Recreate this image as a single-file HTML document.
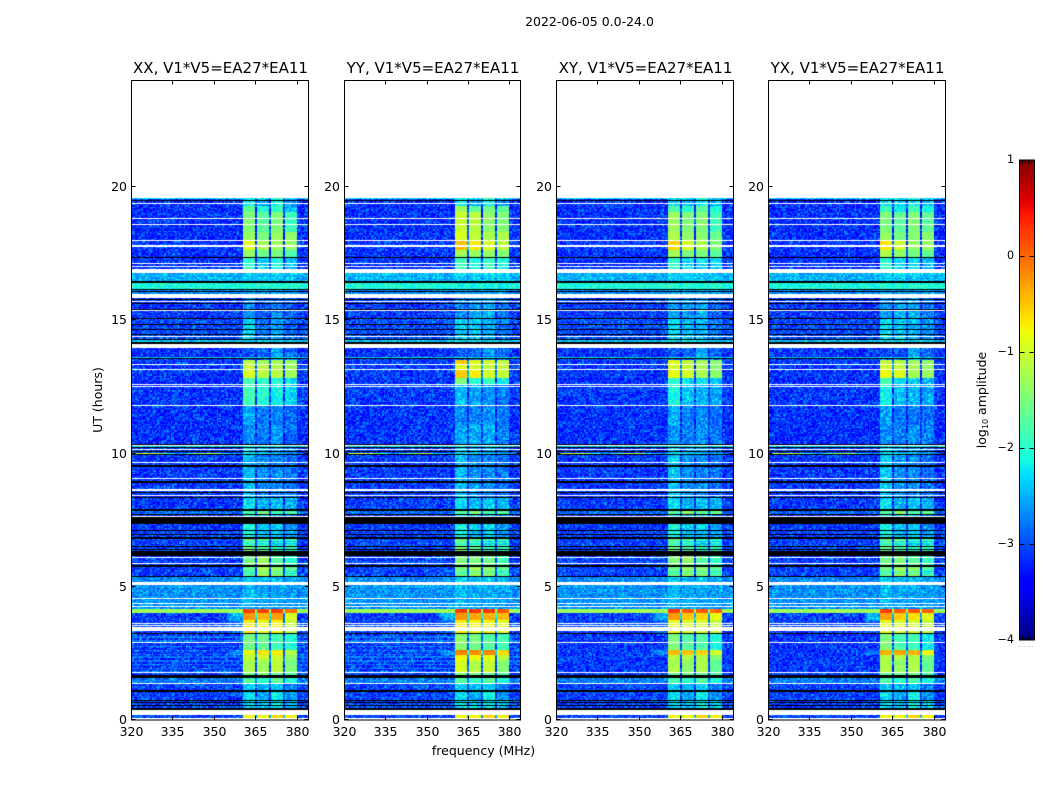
<!DOCTYPE html>
<html lang="en">
<head>
<meta charset="utf-8">
<title>2022-06-05 0.0-24.0</title>
<style>
html,body{margin:0;padding:0;background:#fff;}
#figure{position:relative;width:1050px;height:800px;overflow:hidden;background:#fff;}
canvas{position:absolute;display:block;}
svg{position:absolute;left:0;top:0;}
text{font-family:"DejaVu Sans","Liberation Sans",sans-serif;fill:#000;}
</style>
</head>
<body>
<div id="figure">
<canvas id="cv0" width="177" height="640" style="left:131px;top:80px"></canvas>
<canvas id="cv1" width="176" height="640" style="left:344px;top:80px"></canvas>
<canvas id="cv2" width="177" height="640" style="left:556px;top:80px"></canvas>
<canvas id="cv3" width="177" height="640" style="left:768px;top:80px"></canvas>
<canvas id="cbar" width="15" height="480" style="left:1019px;top:160px"></canvas>
<svg id="chrome" width="1050" height="800" viewBox="0 0 1050 800" xmlns="http://www.w3.org/2000/svg">
<text x="589.5" y="26" text-anchor="middle" font-size="12.5">2022-06-05 0.0-24.0</text>
<text x="483.5" y="755" text-anchor="middle" font-size="12.5">frequency (MHz)</text>
<text transform="translate(102,400) rotate(-90)" text-anchor="middle" font-size="12.5">UT (hours)</text>
<text transform="translate(986,400) rotate(-90)" text-anchor="middle" font-size="12.5">log<tspan font-size="8" dy="2">10</tspan><tspan dy="-2"> amplitude</tspan></text>
</svg>
</div>
<script>
// ---- data ----
const panelNames = ['XX','YY','XY','YX'];
const xTickValues = [320,335,350,365,380];
const yTickValues = [0,5,10,15,20];
const cbarTickValues = [1,0,-1,-2,-3,-4];
const bandEdges = [[360.45,364.9],[365.6,369.9],[370.6,374.9],[375.65,379.9]];

// top hour of each time segment (a segment runs to the next entry)
const segTop = [19.57,19.53,19.27,19.04,18.29,17.96,17.62,17.32,16.75,16.40,16.14,15.97,15.05,14.29,14.16,13.60,13.56,13.49,13.30,13.12,12.81,12.55,11.78,11.05,10.28,10.23,9.96,8.31,7.86,7.69,7.07,6.85,6.13,5.76,5.35,5.05,4.16,4.01,3.73,3.25,2.61,2.42,2.23,1.78,1.59,1.33,1.07,0.69,0.17,0.07];
// log10 amplitude of the out-of-band background in each segment
const segBg = [-2.3,-3.2,-3.2,-3.2,-3.2,-3.15,-3.2,-3.2,-2.55,-2.1,-2.75,-3.15,-3.05,-2.45,-3.2,-2.4,-3.15,-3.15,-3.15,-3.15,-3.2,-3.15,-3.2,-3.2,-2.45,-3.15,-3.15,-3.15,-2.9,-3.15,-3.1,-3.1,-3.1,-3.1,-2.75,-2.7,-1.3,-3.15,-3.1,-3.15,-3.15,-3.15,-3.15,-3.15,-2.8,-3.1,-3.1,-3.1,-3.1,-3.1];
const shoulderSegs = [37,38,40];
const shoulderLevels = [-2.55,-2.9,-2.75];

// log10 amplitude of the four sub-bands in each segment, one table per polarisation
const subXX = [
[-2.2,-2.3,-2.0,-2.3],[-2.2,-2.6,-2.1,-2.6],[-1.7,-2.1,-2.0,-2.5],[-1.5,-1.75,-1.5,-1.9],[-1.35,-1.55,-1.35,-1.4],
[-.9,-1.25,-1.3,-1.35],[-1.4,-1.6,-1.55,-1.8],[-2.0,-2.4,-2.1,-2.5],[-2.4,-2.4,-2.4,-2.5],[-2.05,-2.05,-2.05,-2.05],
[-2.6,-2.6,-2.6,-2.6],[-2.7,-3.0,-2.8,-2.95],[-2.35,-2.85,-2.6,-2.9],[-2.3,-2.3,-2.3,-2.4],[-3,-3,-2.6,-2.9],
[-2.2,-2.2,-2.2,-2.3],[-3,-3,-2.6,-2.9],[-1.15,-1.25,-1.25,-1.35],[-1.1,-1.2,-1.25,-1.3],[-.95,-1.15,-1.15,-1.3],
[-1.8,-2.0,-2.05,-2.3],[-1.85,-2.05,-2.2,-2.35],[-2.6,-2.8,-2.75,-2.9],[-2.75,-2.8,-2.65,-2.9],[-2.3,-2.3,-2.2,-2.3],
[-2.35,-2.6,-2.6,-2.8],[-2.5,-2.75,-2.75,-2.85],[-2.3,-2.55,-2.45,-2.55],[-1.85,-1.55,-1.9,-1.85],[-2.1,-2.4,-2.4,-2.7],
[-2.1,-2.5,-2.4,-2.6],[-1.6,-1.75,-2.0,-1.95],[-1.6,-1.3,-1.75,-2.0],[-1.7,-1.2,-1.4,-1.75],[-2.4,-2.5,-2.5,-2.6],
[-2.5,-2.6,-2.6,-2.65],[.2,.2,.2,-.05],[-.25,-.45,-.3,-.95],[-.7,-.85,-.75,-1.1],[-1.6,-1.7,-1.9,-2.1],
[-.9,-.7,-.75,-1.2],[-1.15,-1.1,-1.1,-1.45],[-1.25,-1.35,-1.15,-1.55],[-1.6,-1.5,-1.6,-1.8],[-1.8,-2.0,-1.7,-2.1],
[-2.4,-2.5,-2.4,-2.8],[-2.3,-2.6,-2.2,-2.7],[-2.3,-2.4,-2.2,-2.4],[-.8,-.8,-.6,-.75],[-3,-3,-3,-3]];
const subYY = [
[-2.1,-2.2,-1.9,-2.2],[-2.2,-2.5,-2.2,-2.7],[-1.3,-1.7,-1.6,-1.7],[-1.05,-1.15,-1.4,-1.5],[-.95,-1.1,-1.25,-1.2],
[-.45,-.7,-.95,-1.15],[-1.3,-1.4,-1.4,-1.5],[-1.9,-2.1,-2.0,-2.1],[-2.4,-2.4,-2.4,-2.4],[-2.15,-2.15,-2.15,-2.15],
[-2.6,-2.6,-2.6,-2.6],[-2.8,-2.6,-2.6,-2.9],[-2.4,-2.4,-2.6,-2.85],[-2.3,-2.3,-2.3,-2.4],[-3,-2.9,-2.7,-2.9],
[-2.2,-2.2,-2.2,-2.3],[-3,-2.9,-2.7,-2.9],[-.55,-.9,-1.0,-1.1],[-1.0,-1.0,-1.1,-1.1],[-.55,-.75,-1.0,-1.1],
[-1.55,-2.0,-1.95,-2.2],[-2.5,-2.6,-2.7,-2.8],[-2.8,-2.8,-2.7,-2.85],[-2.6,-2.6,-2.6,-2.8],[-2.3,-2.3,-2.2,-2.3],
[-2.35,-2.6,-2.6,-2.8],[-2.5,-2.7,-2.75,-2.85],[-2.3,-2.55,-2.45,-2.55],[-1.8,-1.5,-1.8,-1.75],[-2.1,-2.4,-2.4,-2.7],
[-2.1,-2.5,-2.4,-2.6],[-1.55,-1.7,-1.95,-1.9],[-1.5,-1.5,-1.6,-1.9],[-1.55,-1.25,-1.4,-1.75],[-2.4,-2.5,-2.5,-2.6],
[-2.5,-2.6,-2.6,-2.65],[.25,.25,.25,.05],[-.25,-.35,-.4,-.45],[-.7,-.75,-.75,-.9],[-1.5,-1.6,-1.8,-1.9],
[-.15,-.25,-.2,-.65],[-.8,-.85,-.9,-1.2],[-1.0,-1.2,-1.1,-1.5],[-1.5,-1.5,-1.6,-1.8],[-1.8,-2.0,-1.7,-2.1],
[-2.4,-2.5,-2.4,-2.8],[-2.3,-2.6,-2.2,-2.7],[-2.3,-2.4,-2.2,-2.4],[-.8,-.8,-.6,-.75],[-3,-3,-3,-3]];
const subXY = [
[-2.2,-2.3,-2.0,-2.3],[-2.3,-2.5,-2.2,-2.5],[-1.8,-2.0,-1.7,-2.1],[-1.3,-1.5,-1.5,-1.9],[-1.2,-1.35,-1.45,-1.6],
[-.6,-.95,-1.2,-1.5],[-1.3,-1.5,-1.5,-1.7],[-2.0,-2.3,-2.3,-2.4],[-2.4,-2.4,-2.4,-2.5],[-2.05,-2.05,-2.05,-2.05],
[-2.6,-2.6,-2.6,-2.6],[-2.65,-2.65,-2.55,-2.95],[-2.3,-2.5,-2.5,-2.85],[-2.3,-2.3,-2.3,-2.4],[-3,-3,-2.6,-2.9],
[-2.2,-2.2,-2.2,-2.3],[-3,-3,-2.6,-2.9],[-.9,-1.1,-1.25,-1.45],[-1.0,-1.1,-1.3,-1.45],[-.85,-1.0,-1.25,-1.4],
[-2.0,-2.3,-2.3,-2.4],[-2.1,-2.4,-2.5,-2.6],[-2.55,-2.8,-2.75,-2.85],[-2.7,-2.8,-2.7,-2.85],[-2.3,-2.3,-2.2,-2.3],
[-2.35,-2.6,-2.6,-2.8],[-2.4,-2.7,-2.75,-2.85],[-2.3,-2.55,-2.45,-2.55],[-1.7,-1.35,-1.7,-1.6],[-2.1,-2.4,-2.4,-2.7],
[-2.1,-2.5,-2.4,-2.6],[-1.6,-1.75,-2.0,-1.95],[-1.5,-1.4,-1.75,-2.0],[-1.6,-1.35,-1.4,-1.7],[-2.4,-2.5,-2.5,-2.6],
[-2.5,-2.6,-2.6,-2.65],[.25,.1,.1,0],[-.3,-.55,-.6,-.85],[-.85,-.95,-.95,-1.1],[-1.5,-1.75,-1.8,-2.1],
[-.45,-.5,-.55,-1.0],[-1.2,-1.2,-1.2,-1.5],[-1.2,-1.4,-1.2,-1.7],[-1.6,-1.6,-1.6,-1.8],[-1.8,-2.0,-1.8,-2.1],
[-2.4,-2.5,-2.4,-2.8],[-2.3,-2.6,-2.2,-2.7],[-2.3,-2.4,-2.2,-2.4],[-.8,-.8,-.6,-.75],[-3,-3,-3,-3]];
const subYX = [
[-2.2,-2.3,-2.0,-2.3],[-2.3,-2.3,-2.3,-2.5],[-1.9,-2.2,-1.9,-2.1],[-1.5,-1.7,-1.5,-1.7],[-1.4,-1.55,-1.45,-1.45],
[-.7,-1.0,-1.35,-1.35],[-1.2,-1.4,-1.55,-1.7],[-2.0,-2.3,-2.3,-2.5],[-2.4,-2.4,-2.4,-2.5],[-2.05,-2.05,-2.05,-2.05],
[-2.6,-2.6,-2.6,-2.6],[-2.65,-2.55,-2.55,-2.8],[-2.3,-2.4,-2.5,-2.7],[-2.3,-2.3,-2.3,-2.4],[-3,-3,-2.6,-2.9],
[-2.2,-2.2,-2.2,-2.3],[-3,-3,-2.6,-2.9],[-1.1,-1.15,-1.3,-1.4],[-1.0,-1.1,-1.3,-1.4],[-.8,-.9,-1.25,-1.35],
[-1.9,-2.3,-2.4,-2.5],[-2.2,-2.5,-2.5,-2.6],[-2.6,-2.8,-2.8,-2.85],[-2.7,-2.8,-2.7,-2.8],[-2.3,-2.3,-2.2,-2.3],
[-2.35,-2.6,-2.6,-2.8],[-2.4,-2.7,-2.75,-2.85],[-2.3,-2.55,-2.45,-2.55],[-1.75,-1.4,-1.75,-1.65],[-2.1,-2.4,-2.4,-2.7],
[-2.1,-2.5,-2.4,-2.6],[-1.6,-1.75,-2.0,-1.95],[-1.6,-1.5,-1.7,-1.95],[-1.6,-1.3,-1.4,-1.8],[-2.4,-2.5,-2.5,-2.6],
[-2.5,-2.6,-2.6,-2.65],[.25,.1,.1,.05],[-.3,-.55,-.65,-.9],[-.85,-.95,-1.0,-1.15],[-1.5,-1.8,-1.9,-2.2],
[-.4,-.35,-.4,-.8],[-1.2,-1.2,-1.2,-1.5],[-1.2,-1.4,-1.2,-1.7],[-1.6,-1.6,-1.6,-1.8],[-1.8,-2.0,-1.8,-2.1],
[-2.4,-2.5,-2.4,-2.8],[-2.3,-2.6,-2.2,-2.7],[-2.3,-2.4,-2.2,-2.4],[-.8,-.8,-.6,-.75],[-3,-3,-3,-3]];

// flagged (white) and dropped (black) integrations: [top hour, bottom hour]
const whiteGaps = [[19.38,19.34],[18.82,18.79],[18.59,18.55],[17.99,17.96],[17.80,17.73],[17.13,17.09],[17.02,16.97],[16.90,16.75],[15.97,15.82],[15.70,15.67],[15.37,15.33],[14.39,14.35],[14.09,13.94],[13.34,13.30],[13.15,13.12],[12.59,12.55],[12.51,12.48],[11.80,11.76],[10.30,10.26],[10.15,10.11],[9.66,9.62],[9.06,9.02],[8.65,8.57],[8.42,8.39],[7.64,7.60],[6.10,6.06],[5.87,5.84],[5.16,5.05],[4.56,4.52],[4.37,4.33],[4.26,4.22],[3.62,3.58],[3.55,3.51],[3.47,3.33],[2.90,2.87],[1.78,1.74],[1.37,1.33],[0.34,0.17],[0.07,0]];
const blackGaps = [[19.49,19.45],[17.34,17.32],[16.44,16.39],[16.15,16.12],[16.08,16.05],[15.78,15.74],[15.63,15.59],[15.41,15.39],[15.05,15.02],[14.84,14.81],[14.65,14.62],[14.45,14.42],[14.28,14.25],[14.15,14.11],[13.56,13.52],[10.34,10.31],[10.23,10.19],[10.07,10.04],[9.96,9.93],[9.55,9.49],[8.94,8.90],[8.54,8.49],[8.35,8.31],[7.90,7.85],[7.71,7.67],[7.60,7.34],[7.11,7.07],[6.96,6.92],[6.85,6.80],[6.51,6.47],[6.39,6.35],[6.31,6.13],[5.80,5.73],[5.40,5.35],[4.20,4.18],[3.25,3.21],[1.66,1.62],[1.58,1.55],[1.11,1.04],[0.74,0.69],[0.66,0.61],[0.54,0.51],[0.43,0.36]];
// faint horizontal streaks in the parallel hands and dim integrations in the sub-bands
const coPolStreakHours = [3.10,2.95,2.76,2.61,2.46,2.35,2.20,2.08,1.93,1.82];
const dimBandHours = [6.69,6.59,5.56,5.47];
// narrow-band interference row just below 10 h: level per 4 MHz bin from 320 MHz
const spikeRowHours = [9.99,9.95];
const spikeRowLevels = [-1.1,-1.0,-1.2,-2.0,-2.6,-1.8,-1.3,-1.2,-2.2,-2.6,-2.3,-2.2,-2.3,-2.5,-2.6,-2.8];
// fixed speckle table (digit 0-9) giving the receiver-noise texture
const speckleDigits = "73029158461607382945710638294173560291847356019283746501927384650192837465018293746105829374601592837460519283746051829374650192837406529183740651293874605129837460512983764051928736405192837640519287";

// ---- axis functions ----
const panelLefts = [131,344,556,768];
const panelWidths = [177,176,177,177];
const plotTop = 80, plotBottom = 719.6, plotHours = 24, plotMHzMin = 320, plotMHzSpan = 64;
const hourToPx = h => plotBottom - (h / plotHours) * (plotBottom - plotTop);
const pxToHour = y => (plotBottom - y) / (plotBottom - plotTop) * plotHours;
const mhzToPx = (f, i) => panelLefts[i] + (f - plotMHzMin) / plotMHzSpan * panelWidths[i];
const pxToMhz = (x, i) => plotMHzMin + x / panelWidths[i] * plotMHzSpan;
const levelToNorm = v => (v + 4) / 5;

// jet colormap
const jetR = [[0,0],[.35,0],[.66,1],[.89,1],[1,.5]];
const jetG = [[0,0],[.125,0],[.375,1],[.64,1],[.91,0],[1,0]];
const jetB = [[0,.5],[.11,1],[.34,1],[.65,0],[1,0]];
function knot(t, k) {
  for (let i = 1; i < k.length; i++) {
    if (t <= k[i][0]) return k[i-1][1] + (t - k[i-1][0]) / (k[i][0] - k[i-1][0]) * (k[i][1] - k[i-1][1]);
  }
  return k[k.length-1][1];
}
function jet(t) {
  t = Math.max(0, Math.min(1, t));
  return [Math.round(255*knot(t,jetR)), Math.round(255*knot(t,jetG)), Math.round(255*knot(t,jetB))];
}

const subTables = [subXX, subYY, subXY, subYX];
const channelMHz = 0.5, rowHours = 0.05;

function overlaps(list, top, bot, minOverlap) {
  for (const g of list) {
    if (Math.min(top, g[0]) - Math.max(bot, g[1]) >= minOverlap) return true;
  }
  return false;
}
function segmentAt(h) {
  for (let i = segTop.length - 1; i >= 0; i--) { if (h < segTop[i] && (i === segTop.length-1 || h >= segTop[i+1])) return i; }
  return -1;
}
function cellLevel(panel, seg, f) {
  const subs = subTables[panel][seg];
  const bg = segBg[seg];
  for (let b = 0; b < bandEdges.length; b++) {
    if (f >= bandEdges[b][0] && f < bandEdges[b][1]) return subs[b];
    if (b < 3 && f >= bandEdges[b][1] && f < bandEdges[b+1][0]) {
      return Math.max(bg, Math.min(subs[b], subs[b+1]) - 1.8);
    }
  }
  const si = shoulderSegs.indexOf(seg);
  if (si >= 0 && f >= 354 && f < 360.5) {
    return bg + (shoulderLevels[si] - bg) * Math.min(1, (f - 354) / 2.5);
  }
  return bg;
}
function speckleAt(col, row, panel) {
  const n = speckleDigits.length;
  const a = +speckleDigits[(col + row * 3 + panel * 11) % n];
  const b = +speckleDigits[(col * 5 + row + panel * 29) % n];
  return +speckleDigits[(col * 131 + row * 197 + a * 53 + b * 89) % n];
}
function drawPanel(panel) {
  const cv = document.getElementById('cv' + panel);
  const ctx = cv.getContext('2d');
  const W = cv.width, H = cv.height;
  const img = ctx.createImageData(W, H);
  const pxH = pxToHour(0) - pxToHour(1);
  for (let py = 0; py < H; py++) {
    const top = pxToHour(plotTop + py), bot = pxToHour(plotTop + py + 1), mid = (top + bot) / 2;
    const seg = segmentAt(mid);
    const isWhite = seg < 0 || overlaps(whiteGaps, top, bot, 0.38 * pxH);
    const isBlack = !isWhite && overlaps(blackGaps, top, bot, 0.38 * pxH);
    const isSpike = mid < spikeRowHours[0] && mid >= spikeRowHours[1];
    let streak = 0, dim = 0;
    if (panel < 2) for (const s of coPolStreakHours) if (Math.abs(mid - s) < 0.02) streak = 0.3;
    for (const s of dimBandHours) if (Math.abs(mid - s) < 0.022) dim = 0.45;
    const row = Math.floor(mid / rowHours);
    for (let px = 0; px < W; px++) {
      let c;
      if (isWhite) c = [255,255,255];
      else if (isBlack) c = [0,0,0];
      else {
        const f = pxToMhz(px + 0.5, panel);
        const col = Math.floor((f - plotMHzMin) / channelMHz);
        let L = isSpike ? spikeRowLevels[Math.min(15, Math.floor((f - plotMHzMin) / 4))] : cellLevel(panel, seg, f);
        if (!isSpike && L === segBg[seg]) L += streak; else L += streak * 0.3 - dim;
        const digit = speckleAt(col, row, panel);
        const amp = 0.1 + 0.4 * Math.max(0, Math.min(1, (-1 - L) / 2.2));
        const off = (digit - 4.5) / 4.5;
        c = jet(levelToNorm(L + amp * (off < 0 ? off * 0.55 : off)));
      }
      const o = (py * W + px) * 4;
      img.data[o] = c[0]; img.data[o+1] = c[1]; img.data[o+2] = c[2]; img.data[o+3] = 255;
    }
  }
  ctx.putImageData(img, 0, 0);
}
panelNames.forEach((n, i) => drawPanel(i));

// colorbar
(function () {
  const cv = document.getElementById('cbar');
  const ctx = cv.getContext('2d');
  for (let y = 0; y < cv.height; y++) {
    const c = jet(1 - (y + 0.5) / cv.height);
    ctx.fillStyle = 'rgb(' + c.join(',') + ')';
    ctx.fillRect(0, y, cv.width, 1);
  }
})();

// ---- axes ----
const NS = 'http://www.w3.org/2000/svg';
const svg = document.getElementById('chrome');
function line(x1, y1, x2, y2, stroke) {
  const el = document.createElementNS(NS, 'line');
  el.setAttribute('x1', x1); el.setAttribute('y1', y1);
  el.setAttribute('x2', x2); el.setAttribute('y2', y2);
  el.setAttribute('stroke', stroke || '#000');
  el.setAttribute('stroke-width', '1');
  svg.appendChild(el);
  return el;
}
function label(x, y, str, anchor, size) {
  const el = document.createElementNS(NS, 'text');
  el.setAttribute('x', x); el.setAttribute('y', y);
  el.setAttribute('text-anchor', anchor);
  el.setAttribute('font-size', size);
  el.textContent = str;
  svg.appendChild(el);
  return el;
}
const tickLen = 4;
panelNames.forEach((name, i) => {
  const L = panelLefts[i], R = L + panelWidths[i];
  const frame = document.createElementNS(NS, 'rect');
  frame.setAttribute('x', L + 0.5); frame.setAttribute('y', 80.5);
  frame.setAttribute('width', panelWidths[i]); frame.setAttribute('height', 639.5);
  frame.setAttribute('fill', 'none'); frame.setAttribute('stroke', '#000');
  
  
  svg.appendChild(frame);

  const title = label((L + R) / 2 + 1, 73, name + ', V1*V5=EA27*EA11', 'middle', 15);
  
  

  xTickValues.forEach(v => {
    const x = Math.round(mhzToPx(v, i)) + 0.5;
    const t1 = line(x, 720, x, 720 - tickLen);
    
    
    const t2 = line(x, 80.5, x, 80.5 + tickLen);
    
    
    const tl = label(x, 736, String(v), 'middle', 12.5);
    
    
  });
  yTickValues.forEach(v => {
    const y = v === 0 ? 719.5 : Math.floor(hourToPx(v)) + 0.5;
    const t1 = line(L + 0.5, y, L + 0.5 + tickLen, y);
    
    
    const t2 = line(R + 0.5, y, R + 0.5 - tickLen, y);
    
    
    const tl = label(L - 4, y + 4.5, String(v), 'end', 12.5);
    
    
  });
});

// colorbar frame and ticks
const cbFrame = document.createElementNS(NS, 'rect');
cbFrame.setAttribute('x', 1019.5); cbFrame.setAttribute('y', 160);
cbFrame.setAttribute('width', 15); cbFrame.setAttribute('height', 480);
cbFrame.setAttribute('fill', 'none'); cbFrame.setAttribute('stroke', '#000');


svg.appendChild(cbFrame);
const cbarToPx = v => 160 + (1 - v) / 5 * 480;
cbarTickValues.forEach(v => {
  const y = Math.round(cbarToPx(v)) + (v === 1 ? 0.5 : v === -4 ? -0.5 : 0.5);
  const t1 = line(1019.5, y, 1024.5, y);
  
  
  const t2 = line(1034.5, y, 1029.5, y);
  
  
  const tl = label(1014, Math.round(cbarToPx(v)) + 3, (v < 0 ? '\u2212' : '') + Math.abs(v), 'end', 11.1);
  
  
});
[1022.5, 1025.5, 1028.5, 1031.5].forEach(x => {
  const a = line(x, 160, x, 164);
  
  
  const b = line(x, 640, x, 636);
  
  
});
const dots = label(1026.5, 647, '......', 'middle', 5);


dots.setAttribute('style', 'fill:#666;letter-spacing:1px');
</script>
</body>
</html>
